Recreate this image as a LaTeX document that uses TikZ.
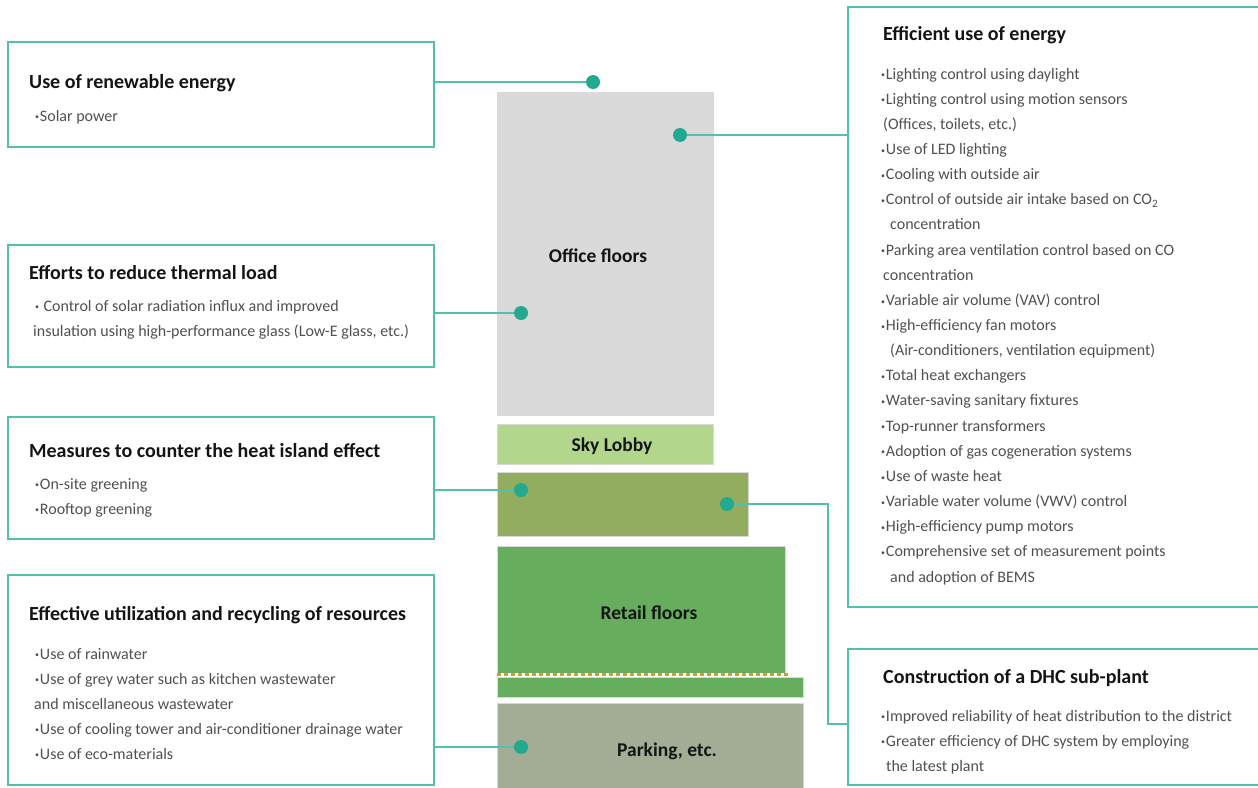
\documentclass[tikz,border=0pt]{standalone}
\usepackage{fontspec}
\usepackage{graphicx}
\setmainfont{Carlito}
\definecolor{teal1}{RGB}{82,192,170}
\definecolor{dotc}{RGB}{34,169,144}
\definecolor{officec}{RGB}{218,218,218}
\definecolor{skyc}{RGB}{178,214,139}
\definecolor{olivec}{RGB}{147,173,96}
\definecolor{retailc}{RGB}{102,174,94}
\definecolor{parkc}{RGB}{163,173,150}
\definecolor{orangec}{RGB}{226,150,40}
\definecolor{bodyc}{RGB}{80,80,80}
\definecolor{titlec}{RGB}{20,20,20}
\newcommand\bul{\raisebox{0.08em}{\scalebox{0.5}{\textbullet}}\kern0.8pt}
\tikzset{
  infobox/.style={draw=teal1, line width=1.6pt, anchor=north west, inner sep=0pt, outer sep=0pt},
  block/.style={anchor=north west, inner sep=0pt, outer sep=0pt, draw=white!85!black, line width=0.4pt},
  blocklabel/.style={font=\fontsize{19.5}{22}\selectfont\bfseries, text=titlec, inner sep=0pt},
  dotn/.style={circle, fill=dotc, minimum size=14pt, inner sep=0pt},
  conn/.style={draw=teal1, line width=1.6pt},
  ttl/.style={anchor=base west, inner sep=0pt, font=\fontsize{20}{24}\selectfont\bfseries, text=titlec},
  txt/.style={anchor=base west, inner sep=0pt, font=\fontsize{16}{19}\selectfont, text=bodyc},
}
\begin{document}
\begin{tikzpicture}[x=1pt,y=-1pt]
\useasboundingbox (0,0) rectangle (1258,787);
% building blocks
\node[block, fill=officec, minimum width=216pt, minimum height=323pt] (office) at (497,92) {};
\node[blocklabel] (officel) at (598,256) {Office floors};
\node[block, fill=skyc, minimum width=216pt, minimum height=40pt] (sky) at (497,424) {};
\node[blocklabel] (skyl) at (612,446) {Sky Lobby};
\node[block, fill=olivec, minimum width=251pt, minimum height=64pt] (olive) at (497,472) {};
\node[block, fill=retailc, minimum width=288pt, minimum height=127pt] (retail) at (497,546) {};
\node[blocklabel] (retaill) at (649,613) {Retail floors};
\node[block, fill=retailc, minimum width=306pt, minimum height=20pt] (strip) at (497,677) {};
\coordinate (dl) at (497,674.5);
\coordinate (dr) at (791,674.5);
\draw[white, line width=3.4pt] (dl) -- (dr);
\draw[orangec, line width=3.4pt, dash pattern=on 4pt off 3pt] (dl) -- (dr);
\node[block, fill=parkc, minimum width=306pt, minimum height=90pt] (park) at (497,703) {};
\node[blocklabel] (parkl) at (667,751) {Parking, etc.};

% info boxes
\node[infobox, minimum width=426pt, minimum height=105pt] (b1) at (8,42) {};
\node[infobox, minimum width=426pt, minimum height=122pt] (b2) at (8,245) {};
\node[infobox, minimum width=426pt, minimum height=122pt] (b3) at (8,417) {};
\node[infobox, minimum width=426pt, minimum height=210pt] (b4) at (8,575) {};
\node[infobox, minimum width=420pt, minimum height=600pt] (b5) at (848,7) {};
\node[infobox, minimum width=420pt, minimum height=136pt] (b6) at (848,649) {};

% dots
\node[dotn] (d1) at (593,82) {};
\node[dotn] (d5) at (680,135) {};
\node[dotn] (d2) at (521,313) {};
\node[dotn] (d3) at (521,490) {};
\node[dotn] (d6) at (727,504) {};
\node[dotn] (d4) at (521,747) {};
\coordinate (bend) at (828,724);

% connectors
\draw[conn] (b1.east |- d1) -- (d1);
\draw[conn] (d5) -- (d5 -| b5.west);
\draw[conn] (b2.east |- d2) -- (d2);
\draw[conn] (b3.east |- d3) -- (d3);
\draw[conn] (b4.east |- d4) -- (d4);
\draw[conn] (d6) -- (d6 -| bend) -- (bend) -- (bend -| b6.west);

% texts: renewable
\node[ttl] (t1) at (29,88) {Use of renewable energy};
\node[txt] (t1a) at (35,121) {\bul Solar power};
% thermal
\node[ttl] (t2) at (29,279) {Efforts to reduce thermal load};
\node[txt] (t2a) at (35,311) {\bul\ Control of solar radiation influx and improved};
\node[txt] (t2b) at (33,336) {insulation using high-performance glass (Low-E glass, etc.)};
% heat island
\node[ttl] (t3) at (29,457) {Measures to counter the heat island effect};
\node[txt] (t3a) at (35,489) {\bul On-site greening};
\node[txt] (t3b) at (35,514) {\bul Rooftop greening};
% resources
\node[ttl] (t4) at (29,620) {Effective utilization and recycling of resources};
\node[txt] (t4a) at (35,659) {\bul Use of rainwater};
\node[txt] (t4b) at (35,684) {\bul Use of grey water such as kitchen wastewater};
\node[txt] (t4c) at (34,709) {and miscellaneous wastewater};
\node[txt] (t4d) at (35,734) {\bul Use of cooling tower and air-conditioner drainage water};
\node[txt] (t4e) at (35,759) {\bul Use of eco-materials};
% efficient use
\node[ttl] (t5) at (883,40) {Efficient use of energy};
\foreach \i/\xx/\t in {
 0/881/{\bul Lighting control using daylight},
 1/881/{\bul Lighting control using motion sensors},
 2/883/{(Offices, toilets, etc.)},
 3/881/{\bul Use of LED lighting},
 4/881/{\bul Cooling with outside air},
 5/881/{\bul Control of outside air intake based on CO\textsubscript{2}},
 6/890/{concentration},
 7/881/{\bul Parking area ventilation control based on CO},
 8/883/{concentration},
 9/881/{\bul Variable air volume (VAV) control},
 10/881/{\bul High-efficiency fan motors},
 11/890/{(Air-conditioners, ventilation equipment)},
 12/881/{\bul Total heat exchangers},
 13/881/{\bul Water-saving sanitary fixtures},
 14/881/{\bul Top-runner transformers},
 15/881/{\bul Adoption of gas cogeneration systems},
 16/881/{\bul Use of waste heat},
 17/881/{\bul Variable water volume (VWV) control},
 18/881/{\bul High-efficiency pump motors},
 19/881/{\bul Comprehensive set of measurement points},
 20/890/{and adoption of BEMS}}
 {\node[txt] (t5l\i) at (\xx,79+25.15*\i) {\t};}
% DHC
\node[ttl] (t6) at (883,683) {Construction of a DHC sub-plant};
\node[txt] (t6a) at (881,721) {\bul Improved reliability of heat distribution to the district};
\node[txt] (t6b) at (881,746) {\bul Greater efficiency of DHC system by employing};
\node[txt] (t6c) at (886,771) {the latest plant};
\end{tikzpicture}
\end{document}
